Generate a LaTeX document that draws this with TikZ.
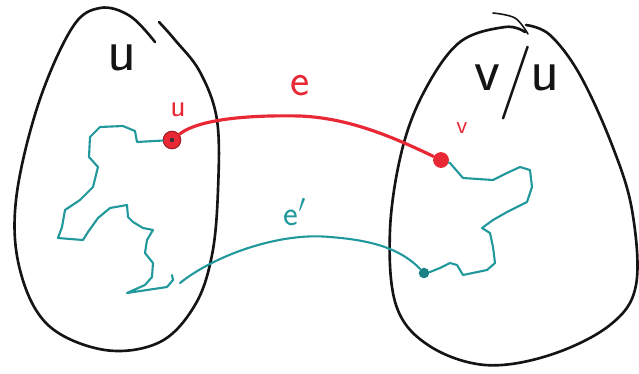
\documentclass[tikz,border=0pt]{standalone}
\usetikzlibrary{calc}
\definecolor{penred}{RGB}{232,40,52}
\definecolor{penteal}{RGB}{32,152,156}
\definecolor{penblack}{RGB}{20,20,20}
\tikzset{
  blob/.style={draw=penblack,line width=1.5pt,line cap=round,line join=round},
  thinblob/.style={draw=penblack,line width=0.9pt,line cap=round},
  redpen/.style={draw=penred,line width=1.8pt,line cap=round},
  tealpen/.style={draw=penteal,line width=1.2pt,line cap=round,line join=round},
  dot/.style={circle,inner sep=0pt,minimum size=#1},
  bigtxt/.style={text=penblack,font=\sffamily\fontsize{34}{36}\selectfont,inner sep=0pt},
}
\begin{document}
\begin{tikzpicture}[x=0.02cm,y=-0.02cm]
\useasboundingbox (0,0) rectangle (639,373);
% left set U
\draw[blob] plot[smooth,tension=0.6] coordinates {(155,42) (130,16) (100,8) (72,28) (38,105) (16,200) (20,270) (48,325) (105,350) (160,342) (195,305) (212,255) (218,190) (217,120) (200,72) (175,40) (159,22)};
% right set V/U
\draw[thinblob] plot[smooth,tension=0.6] coordinates {(493,13) (515,18) (528,34)};
\draw[blob] plot[smooth,tension=0.6] coordinates {(525,32) (505,27) (460,42) (425,90) (402,150) (390,230) (396,305) (428,345) (485,365) (550,355) (610,325) (636,285) (632,210) (612,145) (580,75) (550,35) (526,25)};
% labels of sets
\node[bigtxt] (lU) at (122,58) {u};
\node[bigtxt,anchor=base] (lVU) at (517,90) {v\kern-0.04em\raisebox{-0.2em}{\fontsize{42}{44}\selectfont/}\kern-0.04em u};
% vertices
\node[dot=10pt,fill=penred,draw=penred!70!black,line width=0.6pt] (u) at (172,140) {};
\fill[black!80] (u.center) circle (2.2);
\node[dot=9pt,fill=penred] (v) at (441,160) {};
\node[dot=6pt,fill=penteal!85!black] (w) at (424,273) {};
\coordinate (s) at (180,283);
% red edge e
\draw[redpen] (u) .. controls (200,118) and (255,115) .. (300,116) .. controls (350,118) and (395,138) .. (v);
\node[text=penred,font=\sffamily\fontsize{26}{28}\selectfont,inner sep=0pt] (le) at (300,86) {e};
\node[text=penred,font=\sffamily\fontsize{18}{20}\selectfont,inner sep=0pt] (lu) at (178,110) {u};
\node[text=penred,font=\sffamily\fontsize{14}{16}\selectfont,inner sep=0pt] (lv) at (462,128) {v};
% teal edge e'
\draw[tealpen] (s) .. controls (215,255) and (280,232) .. (330,237) .. controls (370,240) and (400,248) .. (w);
\node[text=penteal,font=\sffamily\fontsize{20}{22}\selectfont,inner sep=0pt] (lep) at (295,212) {e$'$};
% teal squiggle in U
\draw[tealpen] (u) -- (137,142) -- (135,131) -- (123,126) -- (100,127) -- (90,137) -- (89,157) -- (98,167) -- (93,187) -- (80,200) -- (65,210) -- (62,227) -- (58,238) -- (83,240) -- (88,232) -- (98,218) -- (110,208) -- (127,205) -- (128,217) -- (133,222) -- (143,228) -- (153,230) -- (147,240) -- (145,253) -- (153,263) -- (152,277) -- (145,285) -- (127,293) -- (147,290) -- (167,287) -- (173,280) -- (172,275);
% teal squiggle in V/U
\draw[tealpen] (v) -- (450,163) -- (463,178) -- (493,180) -- (507,173) -- (520,167) -- (530,170) -- (532,187) -- (527,202) -- (507,212) -- (493,220) -- (482,228) -- (490,233) -- (493,247) -- (495,263) -- (487,270) -- (463,275) -- (457,265) -- (450,263) -- (440,268) -- (430,272) -- (w);
\end{tikzpicture}
\end{document}
